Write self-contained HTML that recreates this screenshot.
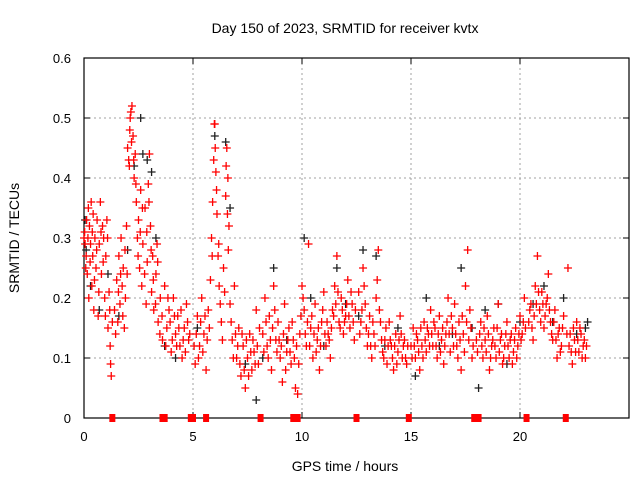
<!DOCTYPE html>
<html><head><meta charset="utf-8"><style>
body{margin:0;background:#fff}
svg{display:block;font-family:"Liberation Sans",sans-serif}
</style></head><body>
<svg id="chart" width="640" height="480">
<text x="345" y="33" font-size="14" text-anchor="middle">Day 150 of 2023, SRMTID for receiver kvtx</text>
<g id="grid"></g>
<g id="axes"></g>
<g id="black"></g>
<g id="red"></g>
<text x="345" y="471" font-size="14" text-anchor="middle">GPS time / hours</text>
<text transform="translate(19,238) rotate(-90)" font-size="14" text-anchor="middle">SRMTID / TECUs</text>
</svg>
<script>
const xTicks=[0,5,10,15,20];
const yTicks=[0,0.1,0.2,0.3,0.4,0.5,0.6];
const yTickLabels=["0","0.1","0.2","0.3","0.4","0.5","0.6"];
const gapTimes=[1.3,3.6,3.7,4.9,5.0,5.6,8.1,9.6,9.8,12.5,14.9,17.9,18.1,20.3,22.1];
const blackPoints=[[0.05,0.33],[0.1,0.28],[0.3,0.22],[0.7,0.18],[1.1,0.24],[1.6,0.17],[2.0,0.28],[2.3,0.42],[2.6,0.5],[2.7,0.44],[2.9,0.43],[3.1,0.41],[3.3,0.3],[3.7,0.12],[4.2,0.1],[5.2,0.15],[6.0,0.47],[6.5,0.46],[6.7,0.35],[7.4,0.09],[7.9,0.03],[8.2,0.1],[8.7,0.25],[9.3,0.13],[10.1,0.3],[10.4,0.2],[11.0,0.12],[11.6,0.25],[12.0,0.19],[12.6,0.17],[12.8,0.28],[13.4,0.27],[13.8,0.12],[14.4,0.15],[15.2,0.07],[15.7,0.2],[16.3,0.12],[16.9,0.14],[17.3,0.25],[17.8,0.15],[18.1,0.05],[18.4,0.18],[19.0,0.19],[19.4,0.09],[20.0,0.16],[20.6,0.19],[21.1,0.22],[21.5,0.16],[22.0,0.2],[22.6,0.14],[23.0,0.15],[23.1,0.16]];
const redPoints=[[0.0,0.3],[0.05,0.29],[0.1,0.27],[0.12,0.33],[0.15,0.24],[0.2,0.35],[0.22,0.2],[0.25,0.32],[0.3,0.29],[0.33,0.36],[0.36,0.22],[0.4,0.27],[0.42,0.34],[0.45,0.18],[0.5,0.3],[0.55,0.25],[0.6,0.33],[0.65,0.17],[0.7,0.29],[0.75,0.36],[0.8,0.24],[0.85,0.32],[0.9,0.3],[0.95,0.2],[1.0,0.27],[1.05,0.33],[1.1,0.15],[1.15,0.21],[1.2,0.12],[1.22,0.09],[1.25,0.07],[1.3,0.16],[1.4,0.18],[1.5,0.23],[1.55,0.16],[1.6,0.27],[1.65,0.19],[1.7,0.3],[1.75,0.22],[1.8,0.25],[1.85,0.15],[1.9,0.2],[1.95,0.32],[2.0,0.45],[2.05,0.43],[2.1,0.48],[2.15,0.51],[2.2,0.52],[2.25,0.47],[2.3,0.4],[2.35,0.44],[2.4,0.36],[2.45,0.3],[2.5,0.33],[2.55,0.25],[2.6,0.38],[2.65,0.22],[2.7,0.29],[2.8,0.35],[2.85,0.19],[2.9,0.26],[2.95,0.39],[3.0,0.44],[3.05,0.32],[3.1,0.21],[3.15,0.27],[3.2,0.18],[3.3,0.24],[3.35,0.29],[3.4,0.16],[3.5,0.2],[3.6,0.13],[3.7,0.22],[3.8,0.15],[3.9,0.18],[4.0,0.11],[4.1,0.2],[4.2,0.14],[4.3,0.17],[4.4,0.12],[4.5,0.1],[4.6,0.15],[4.7,0.19],[4.8,0.13],[5.1,0.09],[5.2,0.17],[5.3,0.12],[5.4,0.2],[5.5,0.14],[5.6,0.08],[5.7,0.18],[5.8,0.23],[5.85,0.3],[5.9,0.36],[5.95,0.43],[6.0,0.49],[6.05,0.41],[6.1,0.34],[6.15,0.27],[6.2,0.22],[6.3,0.16],[6.4,0.25],[6.5,0.37],[6.55,0.45],[6.6,0.4],[6.65,0.32],[6.7,0.19],[6.8,0.13],[6.9,0.22],[7.0,0.1],[7.1,0.15],[7.2,0.07],[7.3,0.12],[7.4,0.05],[7.5,0.1],[7.6,0.14],[7.7,0.08],[7.8,0.11],[7.9,0.18],[8.0,0.09],[8.2,0.14],[8.3,0.2],[8.4,0.12],[8.5,0.17],[8.6,0.08],[8.7,0.22],[8.8,0.13],[8.9,0.16],[9.0,0.1],[9.1,0.06],[9.2,0.19],[9.3,0.11],[9.4,0.15],[9.5,0.09],[9.6,0.13],[9.7,0.05],[9.8,0.04],[9.9,0.14],[10.0,0.22],[10.1,0.18],[10.2,0.12],[10.3,0.29],[10.4,0.15],[10.5,0.1],[10.6,0.19],[10.7,0.13],[10.8,0.08],[10.9,0.16],[11.0,0.21],[11.1,0.12],[11.2,0.14],[11.3,0.1],[11.4,0.18],[11.5,0.22],[11.6,0.27],[11.7,0.16],[11.8,0.2],[11.9,0.14],[12.0,0.17],[12.1,0.23],[12.2,0.15],[12.3,0.19],[12.4,0.13],[12.6,0.21],[12.7,0.16],[12.8,0.25],[12.9,0.19],[13.0,0.12],[13.1,0.17],[13.2,0.1],[13.3,0.14],[13.4,0.2],[13.5,0.28],[13.6,0.16],[13.7,0.11],[13.8,0.13],[13.9,0.09],[14.0,0.16],[14.1,0.12],[14.2,0.08],[14.3,0.14],[14.4,0.11],[14.5,0.17],[14.6,0.1],[14.7,0.13],[14.8,0.09],[15.0,0.12],[15.1,0.15],[15.2,0.1],[15.3,0.13],[15.4,0.08],[15.5,0.12],[15.6,0.16],[15.7,0.11],[15.8,0.14],[15.9,0.18],[16.0,0.12],[16.1,0.15],[16.2,0.1],[16.3,0.17],[16.4,0.13],[16.5,0.09],[16.6,0.14],[16.7,0.2],[16.8,0.11],[16.9,0.15],[17.0,0.19],[17.1,0.12],[17.2,0.16],[17.3,0.08],[17.4,0.14],[17.5,0.22],[17.6,0.28],[17.7,0.18],[17.8,0.1],[18.0,0.13],[18.2,0.16],[18.3,0.1],[18.4,0.13],[18.5,0.17],[18.6,0.08],[18.7,0.12],[18.8,0.15],[18.9,0.1],[19.0,0.19],[19.1,0.13],[19.2,0.09],[19.3,0.12],[19.4,0.16],[19.5,0.1],[19.6,0.14],[19.7,0.11],[19.8,0.15],[19.9,0.12],[20.0,0.17],[20.1,0.14],[20.2,0.2],[20.4,0.16],[20.5,0.19],[20.6,0.13],[20.7,0.22],[20.8,0.27],[20.9,0.18],[21.0,0.21],[21.1,0.15],[21.2,0.19],[21.3,0.24],[21.4,0.16],[21.5,0.13],[21.6,0.18],[21.7,0.1],[21.8,0.15],[21.9,0.12],[22.0,0.17],[22.2,0.25],[22.3,0.14],[22.4,0.09],[22.5,0.13],[22.6,0.16],[22.7,0.11],[22.8,0.14],[22.9,0.12],[23.0,0.1]];
const redPointsExtra=[[0.03,0.31],[0.08,0.25],[0.18,0.3],[0.28,0.26],[0.38,0.31],[0.48,0.23],[0.58,0.28],[0.68,0.21],[0.78,0.31],[0.88,0.26],[0.98,0.17],[1.08,0.3],[1.18,0.18],[1.45,0.14],[1.58,0.21],[1.68,0.24],[1.78,0.17],[1.88,0.28],[1.98,0.24],[2.08,0.42],[2.12,0.5],[2.18,0.46],[2.28,0.43],[2.38,0.39],[2.48,0.27],[2.58,0.31],[2.68,0.35],[2.78,0.24],[2.88,0.31],[2.98,0.36],[3.08,0.28],[3.18,0.23],[3.28,0.19],[3.38,0.26],[3.48,0.14],[3.58,0.17],[3.75,0.12],[3.85,0.2],[3.95,0.16],[4.05,0.13],[4.15,0.17],[4.25,0.12],[4.35,0.15],[4.45,0.18],[4.55,0.13],[4.65,0.11],[4.75,0.16],[4.85,0.14],[5.05,0.12],[5.15,0.14],[5.25,0.1],[5.35,0.16],[5.45,0.11],[5.55,0.17],[5.65,0.13],[5.75,0.15],[5.88,0.27],[5.98,0.49],[6.02,0.45],[6.08,0.38],[6.18,0.29],[6.25,0.19],[6.35,0.13],[6.45,0.21],[6.52,0.42],[6.58,0.34],[6.62,0.28],[6.75,0.16],[6.85,0.1],[6.95,0.14],[7.05,0.12],[7.15,0.09],[7.25,0.14],[7.35,0.08],[7.45,0.13],[7.55,0.07],[7.65,0.11],[7.75,0.13],[7.85,0.09],[7.95,0.12],[8.05,0.15],[8.25,0.11],[8.35,0.16],[8.45,0.1],[8.55,0.13],[8.65,0.15],[8.75,0.18],[8.85,0.11],[8.95,0.13],[9.05,0.12],[9.15,0.14],[9.25,0.08],[9.35,0.13],[9.45,0.11],[9.55,0.16],[9.65,0.1],[9.75,0.12],[9.85,0.09],[9.95,0.17],[10.05,0.2],[10.15,0.14],[10.25,0.16],[10.35,0.12],[10.45,0.17],[10.55,0.14],[10.65,0.11],[10.75,0.15],[10.85,0.12],[10.95,0.18],[11.05,0.14],[11.15,0.16],[11.25,0.13],[11.35,0.15],[11.45,0.17],[11.55,0.19],[11.65,0.21],[11.75,0.15],[11.85,0.18],[11.95,0.16],[12.05,0.19],[12.15,0.17],[12.25,0.21],[12.35,0.16],[12.45,0.18],[12.65,0.14],[12.75,0.18],[12.85,0.22],[12.95,0.15],[13.05,0.14],[13.15,0.12],[13.25,0.16],[13.35,0.12],[13.45,0.23],[13.55,0.18],[13.65,0.13],[13.75,0.1],[13.85,0.15],[13.95,0.12],[14.05,0.13],[14.15,0.1],[14.25,0.12],[14.35,0.09],[14.45,0.13],[14.55,0.14],[14.65,0.12],[14.75,0.1],[14.85,0.12],[15.05,0.1],[15.15,0.12],[15.25,0.14],[15.35,0.11],[15.45,0.15],[15.55,0.1],[15.65,0.13],[15.75,0.15],[15.85,0.12],[15.95,0.14],[16.05,0.16],[16.15,0.12],[16.25,0.14],[16.35,0.11],[16.45,0.15],[16.55,0.12],[16.65,0.16],[16.75,0.14],[16.85,0.17],[16.95,0.12],[17.05,0.14],[17.15,0.1],[17.25,0.13],[17.35,0.17],[17.45,0.11],[17.55,0.16],[17.65,0.13],[17.75,0.15],[17.85,0.12],[18.05,0.11],[18.15,0.14],[18.25,0.12],[18.35,0.15],[18.45,0.11],[18.55,0.14],[18.65,0.1],[18.75,0.13],[18.85,0.12],[18.95,0.15],[19.05,0.11],[19.15,0.14],[19.25,0.1],[19.35,0.14],[19.45,0.12],[19.55,0.13],[19.65,0.09],[19.75,0.13],[19.85,0.1],[19.95,0.14],[20.05,0.13],[20.15,0.16],[20.25,0.15],[20.45,0.18],[20.55,0.15],[20.65,0.17],[20.75,0.19],[20.85,0.21],[20.95,0.16],[21.05,0.19],[21.15,0.17],[21.25,0.2],[21.35,0.18],[21.45,0.14],[21.55,0.16],[21.65,0.13],[21.75,0.14],[21.85,0.11],[21.95,0.15],[22.15,0.14],[22.25,0.12],[22.35,0.11],[22.45,0.15],[22.55,0.11],[22.65,0.13],[22.75,0.15],[22.85,0.1],[22.95,0.13],[23.05,0.12]];

const L=84,R=629,T=58,B=418,XMAX=25,YMAX=0.6;
const sx=t=>L+(R-L)*t/XMAX;
const sy=v=>B-(B-T)*v/YMAX;
const NS="http://www.w3.org/2000/svg";
function mk(tag,attrs,parent){const e=document.createElementNS(NS,tag);for(const k in attrs)e.setAttribute(k,attrs[k]);parent.appendChild(e);return e;}
const grid=document.getElementById('grid'),axes=document.getElementById('axes');
xTicks.forEach((t,i)=>{
  if(t>0){const g=mk('line',{x1:sx(t),x2:sx(t),y1:T,y2:B,stroke:'#a0a0a0','stroke-dasharray':'2,3'},grid);
  
  }
  mk('line',{x1:sx(t),x2:sx(t),y1:B,y2:B-6,stroke:'#000'},axes);
  mk('line',{x1:sx(t),x2:sx(t),y1:T,y2:T+6,stroke:'#000'},axes);
  const tx=mk('text',{x:sx(t),y:B+23,'font-size':13,'text-anchor':'middle'},axes);
  tx.textContent=t;
  
  
});
yTicks.forEach((v,i)=>{
  if(v>0&&v<YMAX){const g=mk('line',{x1:L,x2:R,y1:sy(v),y2:sy(v),stroke:'#a0a0a0','stroke-dasharray':'2,3'},grid);
  
  }
  mk('line',{x1:L,x2:L+6,y1:sy(v),y2:sy(v),stroke:'#000'},axes);
  mk('line',{x1:R,x2:R-6,y1:sy(v),y2:sy(v),stroke:'#000'},axes);
  const tx=mk('text',{x:L-13,y:sy(v)+5,'font-size':13,'text-anchor':'end'},axes);
  tx.textContent=yTickLabels[i];
  
  
});
const frame=mk('rect',{x:L,y:T,width:R-L,height:B-T,fill:'none',stroke:'#000','stroke-width':1.2},axes);


function plus(g,t,v,col){
  const x=sx(t),y=sy(v);
  const p=mk('path',{d:`M${x-4},${y}h8M${x},${y-4}v8`,stroke:col,'stroke-width':1.3,fill:'none'},g);
  
  
}
const bg=document.getElementById('black'),rg=document.getElementById('red');
blackPoints.forEach(p=>plus(bg,p[0],p[1],'#202020'));
redPoints.forEach(p=>plus(rg,p[0],p[1],'#ff0000'));
redPointsExtra.forEach(p=>plus(rg,p[0],p[1],'#ff0000'));
gapTimes.forEach(t=>{
  const r=mk('rect',{x:sx(t)-3,y:B-4,width:6,height:8,fill:'#ff0000'},rg);
  
  
});
</script>
</body></html>
